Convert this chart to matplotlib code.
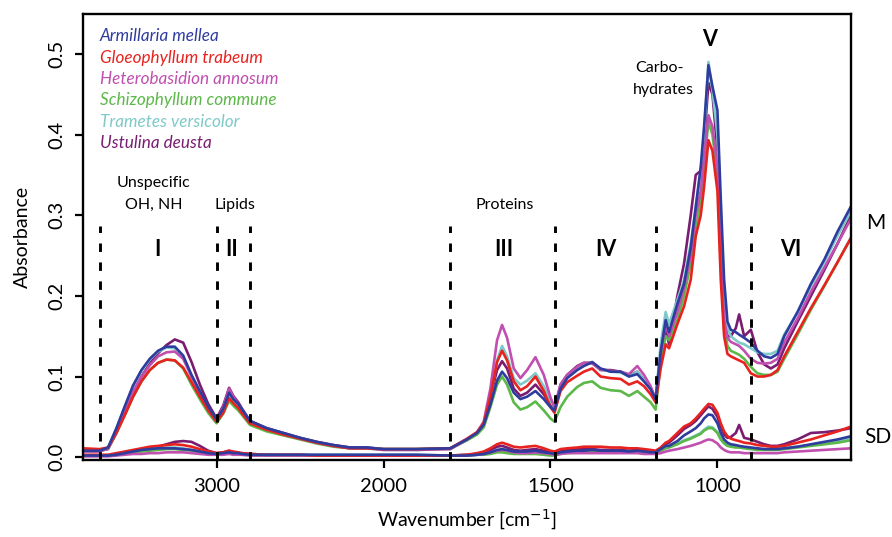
import numpy as np
import matplotlib
matplotlib.use("Agg")
import matplotlib.pyplot as plt

# ---------------- data ----------------
wavenumber = [3800, 3700, 3650, 3600, 3550, 3500, 3450, 3400, 3350, 3300, 3250, 3200, 3150, 3100, 3050, 3000,
              2960, 2925, 2900, 2870, 2850, 2800, 2700, 2600, 2500, 2400, 2300, 2200, 2100, 2000,
              1900, 1800, 1750, 1720, 1700, 1680, 1660, 1645, 1630, 1610, 1590, 1570, 1545, 1520, 1500, 1488,
              1470, 1450, 1420, 1400, 1375, 1350, 1320, 1290, 1265, 1240, 1220, 1200, 1185,
              1170, 1155, 1145, 1120, 1100, 1080, 1065, 1050, 1040, 1027, 1015, 1000,
              990, 980, 970, 960, 945, 935, 920, 900, 880, 860, 840, 820, 800, 760, 720, 680, 640, 600]

species = ["Armillaria mellea", "Gloeophyllum trabeum", "Heterobasidion annosum",
           "Schizophyllum commune", "Trametes versicolor", "Ustulina deusta"]
colors = ["#2e3c9e", "#e8231f", "#c04fb0", "#5cb848", "#7ec9c9", "#7a1c70"]

# mean spectra
mean_armillaria = [0.008, 0.008, 0.012, 0.036, 0.063, 0.089, 0.108, 0.122, 0.132, 0.137, 0.137, 0.126, 0.102, 0.082, 0.063, 0.047,
                   0.060, 0.080, 0.072, 0.066, 0.060, 0.045, 0.036, 0.030, 0.024, 0.019, 0.015, 0.012, 0.012, 0.010,
                   0.010, 0.011, 0.022, 0.030, 0.040, 0.065, 0.095, 0.106, 0.098, 0.080, 0.072, 0.075, 0.082, 0.072, 0.062, 0.058,
                   0.085, 0.098, 0.108, 0.113, 0.118, 0.110, 0.106, 0.106, 0.100, 0.103, 0.094, 0.084, 0.072,
                   0.130, 0.170, 0.155, 0.190, 0.215, 0.260, 0.310, 0.360, 0.410, 0.486, 0.460, 0.430,
                   0.320, 0.220, 0.168, 0.158, 0.155, 0.152, 0.148, 0.142, 0.132, 0.125, 0.123, 0.128, 0.150, 0.180, 0.215, 0.245, 0.280, 0.311]
mean_gloeophyllum = [0.011, 0.010, 0.012, 0.030, 0.052, 0.075, 0.094, 0.108, 0.117, 0.121, 0.120, 0.111, 0.093, 0.075, 0.058, 0.044,
                     0.055, 0.073, 0.067, 0.061, 0.055, 0.042, 0.034, 0.028, 0.023, 0.018, 0.014, 0.011, 0.011, 0.010,
                     0.010, 0.011, 0.023, 0.031, 0.042, 0.075, 0.118, 0.132, 0.120, 0.094, 0.083, 0.088, 0.100, 0.082, 0.062, 0.055,
                     0.082, 0.093, 0.101, 0.106, 0.110, 0.100, 0.098, 0.097, 0.090, 0.094, 0.088, 0.078, 0.068,
                     0.110, 0.140, 0.135, 0.165, 0.187, 0.220, 0.274, 0.300, 0.335, 0.393, 0.380, 0.330,
                     0.220, 0.150, 0.128, 0.125, 0.122, 0.120, 0.117, 0.104, 0.100, 0.100, 0.102, 0.108, 0.125, 0.155, 0.185, 0.213, 0.242, 0.272]
mean_heterobasidion = [0.007, 0.007, 0.011, 0.032, 0.057, 0.081, 0.100, 0.114, 0.125, 0.130, 0.131, 0.122, 0.100, 0.080, 0.061, 0.046,
                       0.062, 0.085, 0.075, 0.066, 0.060, 0.044, 0.035, 0.029, 0.023, 0.018, 0.014, 0.011, 0.011, 0.009,
                       0.009, 0.010, 0.022, 0.031, 0.044, 0.085, 0.145, 0.164, 0.148, 0.110, 0.098, 0.108, 0.124, 0.102, 0.074, 0.062,
                       0.090, 0.102, 0.112, 0.117, 0.116, 0.109, 0.107, 0.106, 0.103, 0.113, 0.102, 0.088, 0.072,
                       0.130, 0.165, 0.150, 0.180, 0.210, 0.250, 0.300, 0.330, 0.370, 0.424, 0.410, 0.360,
                       0.250, 0.170, 0.148, 0.143, 0.140, 0.138, 0.132, 0.122, 0.117, 0.116, 0.117, 0.122, 0.142, 0.172, 0.205, 0.235, 0.265, 0.296]
mean_schizophyllum = [0.008, 0.008, 0.011, 0.030, 0.052, 0.075, 0.094, 0.108, 0.117, 0.121, 0.120, 0.110, 0.090, 0.072, 0.055, 0.042,
                      0.054, 0.070, 0.064, 0.058, 0.053, 0.040, 0.032, 0.027, 0.022, 0.017, 0.013, 0.011, 0.011, 0.010,
                      0.010, 0.011, 0.021, 0.028, 0.037, 0.062, 0.090, 0.100, 0.090, 0.068, 0.059, 0.062, 0.069, 0.058, 0.048, 0.044,
                      0.062, 0.075, 0.087, 0.092, 0.094, 0.086, 0.083, 0.082, 0.076, 0.082, 0.075, 0.068, 0.059,
                      0.120, 0.150, 0.145, 0.170, 0.200, 0.240, 0.280, 0.320, 0.360, 0.416, 0.400, 0.350,
                      0.240, 0.160, 0.138, 0.132, 0.129, 0.127, 0.122, 0.112, 0.104, 0.102, 0.102, 0.106, 0.122, 0.152, 0.183, 0.212, 0.242, 0.272]
mean_trametes = [0.007, 0.007, 0.011, 0.035, 0.062, 0.088, 0.107, 0.121, 0.131, 0.136, 0.135, 0.124, 0.100, 0.080, 0.061, 0.046,
                 0.058, 0.078, 0.070, 0.064, 0.058, 0.044, 0.035, 0.029, 0.023, 0.018, 0.014, 0.011, 0.011, 0.009,
                 0.009, 0.010, 0.021, 0.030, 0.042, 0.075, 0.120, 0.138, 0.125, 0.098, 0.090, 0.095, 0.104, 0.088, 0.070, 0.062,
                 0.088, 0.100, 0.110, 0.114, 0.117, 0.109, 0.106, 0.105, 0.100, 0.106, 0.096, 0.085, 0.072,
                 0.140, 0.180, 0.165, 0.195, 0.220, 0.265, 0.310, 0.355, 0.400, 0.490, 0.455, 0.400,
                 0.280, 0.190, 0.160, 0.150, 0.145, 0.142, 0.140, 0.135, 0.130, 0.128, 0.128, 0.132, 0.152, 0.180, 0.212, 0.242, 0.275, 0.305]
mean_ustulina = [0.008, 0.008, 0.010, 0.030, 0.055, 0.080, 0.100, 0.116, 0.129, 0.139, 0.146, 0.142, 0.118, 0.090, 0.066, 0.048,
                 0.064, 0.086, 0.076, 0.068, 0.061, 0.045, 0.036, 0.030, 0.024, 0.019, 0.015, 0.012, 0.012, 0.010,
                 0.010, 0.011, 0.022, 0.030, 0.041, 0.075, 0.108, 0.119, 0.110, 0.085, 0.076, 0.080, 0.090, 0.078, 0.064, 0.058,
                 0.090, 0.102, 0.113, 0.117, 0.117, 0.108, 0.108, 0.106, 0.101, 0.106, 0.096, 0.086, 0.072,
                 0.125, 0.160, 0.140, 0.200, 0.240, 0.300, 0.350, 0.355, 0.390, 0.464, 0.450, 0.380,
                 0.260, 0.170, 0.150, 0.150, 0.160, 0.177, 0.150, 0.158, 0.130, 0.115, 0.110, 0.115, 0.135, 0.168, 0.200, 0.232, 0.265, 0.300]

# standard deviation spectra
sd_armillaria = [0.002, 0.002, 0.002, 0.003, 0.005, 0.007, 0.009, 0.010, 0.011, 0.011, 0.011, 0.010, 0.009, 0.007, 0.005, 0.004,
                 0.005, 0.006, 0.005, 0.005, 0.004, 0.003, 0.003, 0.003, 0.003, 0.003, 0.003, 0.003, 0.003, 0.003,
                 0.003, 0.002, 0.002, 0.003, 0.004, 0.006, 0.009, 0.010, 0.009, 0.007, 0.007, 0.007, 0.008, 0.006, 0.005, 0.004,
                 0.006, 0.007, 0.008, 0.008, 0.009, 0.008, 0.008, 0.008, 0.007, 0.008, 0.007, 0.006, 0.006,
                 0.010, 0.014, 0.014, 0.020, 0.027, 0.032, 0.036, 0.042, 0.048, 0.053, 0.052, 0.042,
                 0.030, 0.022, 0.018, 0.016, 0.015, 0.014, 0.013, 0.012, 0.011, 0.010, 0.010, 0.010, 0.011, 0.013, 0.016, 0.019, 0.022, 0.026]
sd_gloeophyllum = [0.003, 0.003, 0.003, 0.005, 0.007, 0.009, 0.011, 0.013, 0.014, 0.015, 0.016, 0.015, 0.013, 0.010, 0.007, 0.005,
                   0.006, 0.008, 0.007, 0.006, 0.005, 0.004, 0.003, 0.003, 0.003, 0.002, 0.002, 0.002, 0.002, 0.002,
                   0.002, 0.002, 0.003, 0.005, 0.007, 0.011, 0.016, 0.018, 0.016, 0.013, 0.012, 0.013, 0.014, 0.011, 0.008, 0.007,
                   0.010, 0.011, 0.012, 0.013, 0.013, 0.013, 0.012, 0.012, 0.011, 0.011, 0.010, 0.009, 0.008,
                   0.012, 0.018, 0.020, 0.030, 0.038, 0.042, 0.048, 0.055, 0.060, 0.066, 0.065, 0.055,
                   0.042, 0.032, 0.026, 0.023, 0.021, 0.020, 0.018, 0.017, 0.015, 0.014, 0.013, 0.013, 0.014, 0.018, 0.022, 0.027, 0.032, 0.038]
sd_heterobasidion = [0.001, 0.001, 0.001, 0.002, 0.003, 0.004, 0.004, 0.005, 0.005, 0.006, 0.006, 0.006, 0.005, 0.004, 0.003, 0.003,
                     0.003, 0.004, 0.003, 0.003, 0.003, 0.002, 0.002, 0.002, 0.002, 0.002, 0.002, 0.002, 0.002, 0.002,
                     0.002, 0.002, 0.002, 0.003, 0.004, 0.006, 0.008, 0.009, 0.008, 0.006, 0.005, 0.005, 0.006, 0.005, 0.004, 0.003,
                     0.004, 0.005, 0.005, 0.005, 0.005, 0.005, 0.005, 0.005, 0.005, 0.005, 0.004, 0.004, 0.004,
                     0.005, 0.007, 0.008, 0.010, 0.012, 0.014, 0.016, 0.018, 0.020, 0.022, 0.021, 0.017,
                     0.012, 0.009, 0.007, 0.006, 0.006, 0.006, 0.005, 0.005, 0.005, 0.005, 0.005, 0.005, 0.006, 0.007, 0.008, 0.009, 0.010, 0.011]
sd_schizophyllum = [0.002, 0.002, 0.002, 0.003, 0.004, 0.006, 0.007, 0.008, 0.009, 0.010, 0.010, 0.009, 0.008, 0.006, 0.005, 0.004,
                    0.004, 0.005, 0.004, 0.004, 0.003, 0.003, 0.002, 0.002, 0.002, 0.002, 0.002, 0.002, 0.002, 0.002,
                    0.002, 0.002, 0.002, 0.003, 0.003, 0.004, 0.006, 0.006, 0.005, 0.004, 0.004, 0.004, 0.004, 0.003, 0.002, 0.002,
                    0.004, 0.005, 0.006, 0.006, 0.007, 0.006, 0.006, 0.006, 0.006, 0.006, 0.005, 0.005, 0.005,
                    0.008, 0.011, 0.012, 0.016, 0.020, 0.023, 0.026, 0.029, 0.033, 0.036, 0.036, 0.030,
                    0.022, 0.017, 0.014, 0.013, 0.012, 0.012, 0.011, 0.010, 0.009, 0.009, 0.009, 0.009, 0.010, 0.012, 0.014, 0.016, 0.018, 0.021]
sd_trametes = [0.002, 0.002, 0.002, 0.003, 0.005, 0.007, 0.009, 0.010, 0.011, 0.012, 0.012, 0.011, 0.009, 0.007, 0.005, 0.004,
               0.004, 0.005, 0.004, 0.004, 0.004, 0.003, 0.003, 0.003, 0.003, 0.003, 0.003, 0.003, 0.003, 0.003,
               0.003, 0.002, 0.002, 0.003, 0.004, 0.005, 0.007, 0.008, 0.007, 0.006, 0.005, 0.006, 0.006, 0.005, 0.004, 0.004,
               0.005, 0.006, 0.007, 0.007, 0.007, 0.007, 0.007, 0.007, 0.006, 0.007, 0.006, 0.006, 0.005,
               0.008, 0.012, 0.013, 0.017, 0.021, 0.024, 0.027, 0.030, 0.034, 0.038, 0.037, 0.031,
               0.023, 0.018, 0.015, 0.014, 0.013, 0.013, 0.012, 0.011, 0.010, 0.010, 0.010, 0.010, 0.011, 0.013, 0.015, 0.018, 0.020, 0.024]
sd_ustulina = [0.002, 0.002, 0.002, 0.003, 0.005, 0.007, 0.009, 0.011, 0.013, 0.016, 0.019, 0.020, 0.019, 0.014, 0.008, 0.005,
               0.006, 0.008, 0.006, 0.005, 0.005, 0.004, 0.003, 0.003, 0.003, 0.002, 0.002, 0.002, 0.002, 0.002,
               0.002, 0.002, 0.003, 0.004, 0.006, 0.009, 0.013, 0.014, 0.012, 0.009, 0.008, 0.009, 0.010, 0.008, 0.006, 0.005,
               0.008, 0.009, 0.010, 0.010, 0.010, 0.009, 0.009, 0.009, 0.008, 0.009, 0.008, 0.007, 0.007,
               0.011, 0.016, 0.018, 0.027, 0.035, 0.040, 0.045, 0.052, 0.057, 0.063, 0.060, 0.050,
               0.038, 0.028, 0.024, 0.025, 0.030, 0.040, 0.024, 0.022, 0.019, 0.016, 0.014, 0.014, 0.016, 0.022, 0.030, 0.031, 0.033, 0.036]

means = [mean_armillaria, mean_gloeophyllum, mean_heterobasidion, mean_schizophyllum, mean_trametes, mean_ustulina]
sds = [sd_armillaria, sd_gloeophyllum, sd_heterobasidion, sd_schizophyllum, sd_trametes, sd_ustulina]

region_bounds = [3700, 3000, 2800, 1800, 1485, 1185, 900]
x_ticks = [3000, 2000, 1500, 1000]
y_ticks = [0.0, 0.1, 0.2, 0.3, 0.4, 0.5]

# ---------------- plot ----------------
plt.rcParams['font.family'] = ['Lato', 'DejaVu Sans']

W, H = 892, 537
fig = plt.figure(figsize=(W / 100, H / 100), dpi=100)
ax = fig.add_axes([83 / W, 1 - 460 / H, (851 - 83) / W, (460 - 14) / H])


def fwd(x):
    x = np.asarray(x, dtype=float)
    return np.where(x >= 2000, 2000 + (x - 2000) / 2.0, x)


def inv(u):
    u = np.asarray(u, dtype=float)
    return np.where(u >= 2000, 2000 + (u - 2000) * 2.0, u)


ax.set_xscale('function', functions=(fwd, inv))

wn = np.array(wavenumber)
order = [5, 4, 3, 2, 1, 0]
for i in order:
    ax.plot(wn, sds[i], color=colors[i], lw=1.9, solid_joinstyle='round')
for i in order:
    ax.plot(wn, means[i], color=colors[i], lw=1.9, solid_joinstyle='round')

for b in region_bounds:
    ax.plot([b, b], [-0.004, 0.287], color='black', lw=2.1, linestyle=(0, (2.9, 3.6)))

ax.set_xlim(3800, 600)
ax.set_ylim(-0.0035, 0.5495)
ax.set_xticks(x_ticks)
ax.set_xticklabels([str(t) for t in x_ticks])
ax.set_yticks(y_ticks)
ax.set_yticklabels(["%.1f" % t for t in y_ticks], rotation=90, va='center')
ax.minorticks_off()
ax.tick_params(direction='out', length=6, width=1.6, labelsize=14.5, color='black', pad=7)
for s in ax.spines.values():
    s.set_linewidth(1.7)

ax.set_xlabel("Wavenumber [cm$^{-1}$]", fontsize=14, labelpad=9)
ax.set_ylabel("Absorbance", fontsize=14, labelpad=12)


def ftext(px, py, s, **kw):
    fig.text(px / W, 1 - py / H, s, **kw)


# legend
leg_y = [36, 58, 79, 100, 122, 143]
for name, c, yy in zip(species, colors, leg_y):
    ftext(100, yy, name, color=c, style='italic', fontsize=12.3, ha='left', va='center')

# region annotations
ftext(154, 183, "Unspecific", fontsize=11.5, ha='center', va='center')
ftext(154, 205, "OH, NH", fontsize=11.5, ha='center', va='center')
ftext(235, 205, "Lipids", fontsize=11.5, ha='center', va='center')
ftext(505, 205, "Proteins", fontsize=11.5, ha='center', va='center')
ftext(659, 68, "Carbo-", fontsize=11.5, ha='center', va='center')
ftext(663, 90, "hydrates", fontsize=11.5, ha='center', va='center')
for s, px, py in [("I", 157, 249), ("II", 232, 249), ("III", 504, 249), ("IV", 606, 249),
                  ("V", 710, 39), ("VI", 791, 249)]:
    ftext(px, py, s, fontsize=15.5, fontweight='bold', ha='center', va='center')
ftext(866, 223, "M", fontsize=15, ha='left', va='center')
ftext(864, 437, "SD", fontsize=15, ha='left', va='center')

fig.savefig("out.png", dpi=100)
